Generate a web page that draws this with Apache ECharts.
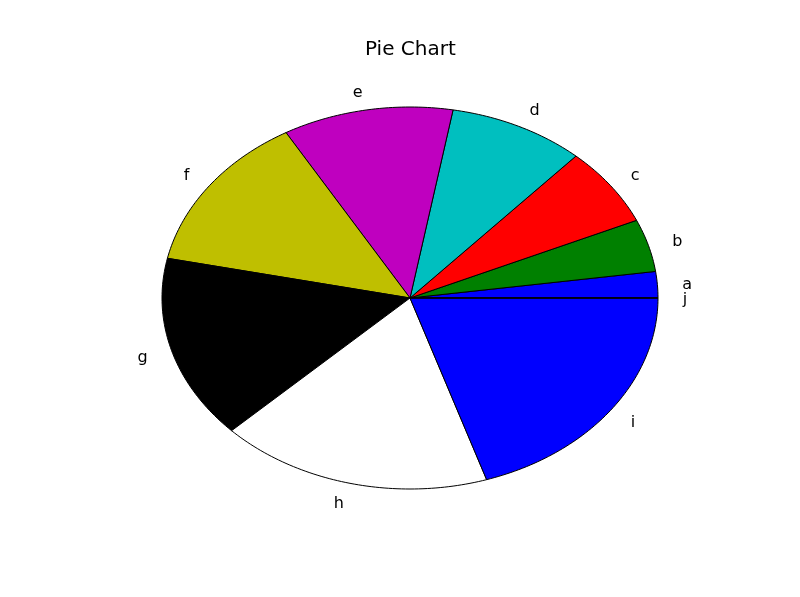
<!DOCTYPE html>
<html>
<head>
<meta charset="utf-8">
<script src="https://cdn.jsdelivr.net/npm/echarts@6/dist/echarts.min.js"></script>
<style>
  html, body { margin: 0; padding: 0; background: #fff; }
  #main { width: 800px; height: 597px; }
</style>
</head>
<body>
<div id="main"></div>
<script>
const labels = ['a', 'b', 'c', 'd', 'e', 'f', 'g', 'h', 'i', 'j'];
const values = [1, 2, 3, 4, 5, 6, 7, 8, 9, 0];
const colors = ['#0000ff', '#008000', '#ff0000', '#00bfbf', '#bf00bf',
                '#bfbf00', '#000000', '#ffffff', '#0000ff', '#008000'];

// ellipse geometry (matplotlib axes not set to equal, so the pie is stretched)
const cx = 410, cy = 298, rx = 248, ry = 191;
const total = values.reduce((s, v) => s + v, 0);
const starts = [];
let acc = 0;
values.forEach((v) => { starts.push(acc); acc += v; });

function pt(deg, k) {
    const r = deg * Math.PI / 180;
    return [cx + k * rx * Math.cos(r), cy - k * ry * Math.sin(r)];
}

let options = {
    animation: false,
    title: {
        text: 'Pie Chart',
        left: 360,
        top: 35,
        textStyle: { fontFamily: 'DejaVu Sans', fontSize: 20, fontWeight: 'normal', color: '#000' }
    },
    series: [{
        type: 'custom',
        coordinateSystem: 'none',
        data: values.map((v, i) => [v, i]),
        renderItem: function (params, api) {
            const i = params.dataIndex;
            const a0 = starts[i] / total * 360;
            const a1 = (starts[i] + api.value(0)) / total * 360;
            const pts = [[cx, cy]];
            const steps = Math.max(1, Math.ceil(a1 - a0));
            for (let s = 0; s <= steps; s++) {
                pts.push(pt(a0 + (a1 - a0) * s / steps, 1));
            }
            const mid = (a0 + a1) / 2;
            const lp = pt(mid, 1.1);
            const right = Math.cos(mid * Math.PI / 180) >= 0;
            return {
                type: 'group',
                children: [{
                    type: 'polygon',
                    shape: { points: pts },
                    style: { fill: colors[i], stroke: '#000', lineWidth: 1 }
                }, {
                    type: 'text',
                    x: lp[0],
                    y: lp[1] + 1.5,
                    style: {
                        text: labels[i],
                        fill: '#000',
                        font: '16px "DejaVu Sans"',
                        align: right ? 'left' : 'right',
                        verticalAlign: 'middle'
                    }
                }]
            };
        }
    }]
};

let myChart = echarts.init(document.getElementById('main'));
myChart.setOption(options);
</script>
</body>
</html>
